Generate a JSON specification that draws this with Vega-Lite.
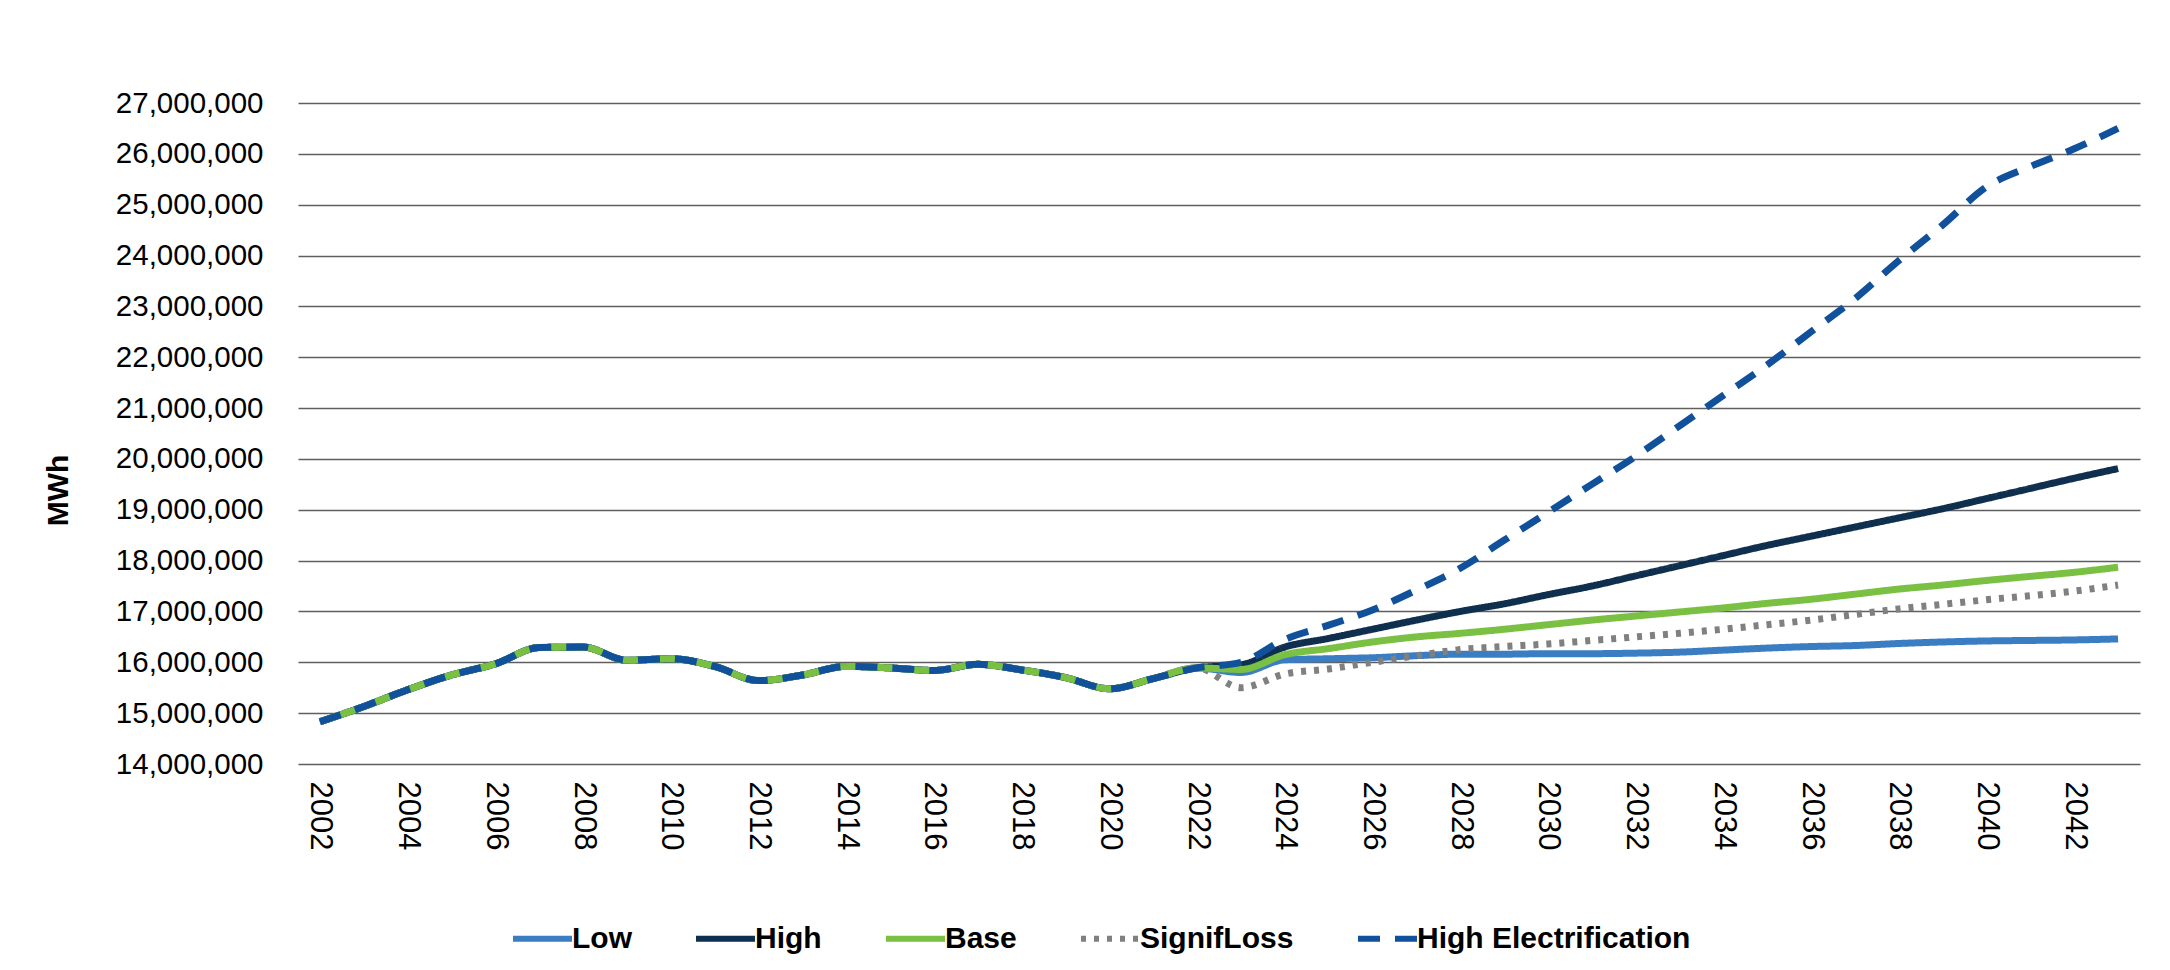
{
  "$schema": "https://vega.github.io/schema/vega-lite/v6.json",
  "width": 1842,
  "height": 661,
  "autosize": {"type": "none"},
  "padding": {"left": 298, "top": 103, "right": 30, "bottom": 206},
  "background": "#ffffff",
  "config": {
    "font": "Liberation Sans",
    "view": {"stroke": null},
    "axis": {"labelColor": "#000000", "titleColor": "#000000"}
  },
  "data": {
    "values": [
      {"year": 2002, "Low": 14830000, "High": 14830000, "SignifLoss": 14830000, "Base": 14830000, "High Electrification": 14830000},
      {"year": 2003, "Low": 15130000, "High": 15130000, "SignifLoss": 15130000, "Base": 15130000, "High Electrification": 15130000},
      {"year": 2004, "Low": 15460000, "High": 15460000, "SignifLoss": 15460000, "Base": 15460000, "High Electrification": 15460000},
      {"year": 2005, "Low": 15750000, "High": 15750000, "SignifLoss": 15750000, "Base": 15750000, "High Electrification": 15750000},
      {"year": 2006, "Low": 15970000, "High": 15970000, "SignifLoss": 15970000, "Base": 15970000, "High Electrification": 15970000},
      {"year": 2007, "Low": 16290000, "High": 16290000, "SignifLoss": 16290000, "Base": 16290000, "High Electrification": 16290000},
      {"year": 2008, "Low": 16300000, "High": 16300000, "SignifLoss": 16300000, "Base": 16300000, "High Electrification": 16300000},
      {"year": 2009, "Low": 16040000, "High": 16040000, "SignifLoss": 16040000, "Base": 16040000, "High Electrification": 16040000},
      {"year": 2010, "Low": 16070000, "High": 16070000, "SignifLoss": 16070000, "Base": 16070000, "High Electrification": 16070000},
      {"year": 2011, "Low": 15920000, "High": 15920000, "SignifLoss": 15920000, "Base": 15920000, "High Electrification": 15920000},
      {"year": 2012, "Low": 15640000, "High": 15640000, "SignifLoss": 15640000, "Base": 15640000, "High Electrification": 15640000},
      {"year": 2013, "Low": 15750000, "High": 15750000, "SignifLoss": 15750000, "Base": 15750000, "High Electrification": 15750000},
      {"year": 2014, "Low": 15920000, "High": 15920000, "SignifLoss": 15920000, "Base": 15920000, "High Electrification": 15920000},
      {"year": 2015, "Low": 15890000, "High": 15890000, "SignifLoss": 15890000, "Base": 15890000, "High Electrification": 15890000},
      {"year": 2016, "Low": 15840000, "High": 15840000, "SignifLoss": 15840000, "Base": 15840000, "High Electrification": 15840000},
      {"year": 2017, "Low": 15960000, "High": 15960000, "SignifLoss": 15960000, "Base": 15960000, "High Electrification": 15960000},
      {"year": 2018, "Low": 15850000, "High": 15850000, "SignifLoss": 15850000, "Base": 15850000, "High Electrification": 15850000},
      {"year": 2019, "Low": 15700000, "High": 15700000, "SignifLoss": 15700000, "Base": 15700000, "High Electrification": 15700000},
      {"year": 2020, "Low": 15480000, "High": 15480000, "SignifLoss": 15480000, "Base": 15480000, "High Electrification": 15480000},
      {"year": 2021, "Low": 15680000, "High": 15680000, "SignifLoss": 15680000, "Base": 15680000, "High Electrification": 15680000},
      {"year": 2022, "Low": 15890000, "High": 15890000, "SignifLoss": 15890000, "Base": 15890000, "High Electrification": 15890000},
      {"year": 2023, "Low": 15800000, "High": 15950000, "SignifLoss": 15500000, "Base": 15860000, "High Electrification": 16000000},
      {"year": 2024, "Low": 16050000, "High": 16300000, "SignifLoss": 15770000, "Base": 16150000, "High Electrification": 16450000},
      {"year": 2025, "Low": 16070000, "High": 16470000, "SignifLoss": 15870000, "Base": 16270000, "High Electrification": 16730000},
      {"year": 2026, "Low": 16090000, "High": 16650000, "SignifLoss": 16000000, "Base": 16400000, "High Electrification": 17030000},
      {"year": 2027, "Low": 16130000, "High": 16830000, "SignifLoss": 16130000, "Base": 16500000, "High Electrification": 17420000},
      {"year": 2028, "Low": 16160000, "High": 17000000, "SignifLoss": 16250000, "Base": 16570000, "High Electrification": 17850000},
      {"year": 2029, "Low": 16160000, "High": 17150000, "SignifLoss": 16310000, "Base": 16650000, "High Electrification": 18400000},
      {"year": 2030, "Low": 16170000, "High": 17330000, "SignifLoss": 16360000, "Base": 16740000, "High Electrification": 18950000},
      {"year": 2031, "Low": 16170000, "High": 17500000, "SignifLoss": 16430000, "Base": 16830000, "High Electrification": 19500000},
      {"year": 2032, "Low": 16180000, "High": 17700000, "SignifLoss": 16500000, "Base": 16910000, "High Electrification": 20050000},
      {"year": 2033, "Low": 16200000, "High": 17900000, "SignifLoss": 16570000, "Base": 16990000, "High Electrification": 20650000},
      {"year": 2034, "Low": 16240000, "High": 18100000, "SignifLoss": 16650000, "Base": 17070000, "High Electrification": 21250000},
      {"year": 2035, "Low": 16280000, "High": 18300000, "SignifLoss": 16740000, "Base": 17160000, "High Electrification": 21850000},
      {"year": 2036, "Low": 16310000, "High": 18480000, "SignifLoss": 16830000, "Base": 17240000, "High Electrification": 22500000},
      {"year": 2037, "Low": 16330000, "High": 18660000, "SignifLoss": 16940000, "Base": 17340000, "High Electrification": 23150000},
      {"year": 2038, "Low": 16370000, "High": 18840000, "SignifLoss": 17050000, "Base": 17440000, "High Electrification": 23900000},
      {"year": 2039, "Low": 16400000, "High": 19020000, "SignifLoss": 17140000, "Base": 17520000, "High Electrification": 24600000},
      {"year": 2040, "Low": 16420000, "High": 19220000, "SignifLoss": 17230000, "Base": 17610000, "High Electrification": 25350000},
      {"year": 2041, "Low": 16430000, "High": 19420000, "SignifLoss": 17310000, "Base": 17690000, "High Electrification": 25750000},
      {"year": 2042, "Low": 16440000, "High": 19620000, "SignifLoss": 17400000, "Base": 17770000, "High Electrification": 26100000},
      {"year": 2043, "Low": 16460000, "High": 19810000, "SignifLoss": 17520000, "Base": 17870000, "High Electrification": 26500000}
    ]
  },
  "transform": [
    {"fold": ["Low", "High", "SignifLoss", "Base", "High Electrification"], "as": ["series", "mwh"]}
  ],
  "mark": {"type": "line", "interpolate": "monotone", "strokeWidth": 7, "strokeCap": "butt", "strokeJoin": "round"},
  "encoding": {
    "x": {
      "field": "year",
      "type": "ordinal",
      "sort": "ascending",
      "axis": {
        "title": null,
        "values": [2002, 2004, 2006, 2008, 2010, 2012, 2014, 2016, 2018, 2020, 2022, 2024, 2026, 2028, 2030, 2032, 2034, 2036, 2038, 2040, 2042],
        "labelAngle": 90,
        "labelFontSize": 31,
        "labelPadding": 17,
        "ticks": false,
        "domain": false,
        "grid": false
      }
    },
    "y": {
      "field": "mwh",
      "type": "quantitative",
      "scale": {"domain": [14000000, 27000000], "nice": false, "zero": false},
      "axis": {
        "title": "MWh",
        "titleFontSize": 30,
        "titleFontWeight": "bold",
        "titleAngle": -90,
        "titleX": -240,
        "titleY": 387,
        "titleAlign": "center",
        "titleBaseline": "middle",
        "values": [14000000, 15000000, 16000000, 17000000, 18000000, 19000000, 20000000, 21000000, 22000000, 23000000, 24000000, 25000000, 26000000, 27000000],
        "format": ",.0f",
        "labelFontSize": 29.5,
        "labelPadding": 35,
        "labelLimit": 300,
        "ticks": false,
        "domain": false,
        "grid": true,
        "gridColor": "#5f5f5f",
        "gridWidth": 1.6
      }
    },
    "color": {
      "field": "series",
      "type": "nominal",
      "scale": {
        "domain": ["Low", "High", "Base", "SignifLoss", "High Electrification"],
        "range": ["#3A7DC2", "#0E2F4E", "#7AC143", "#808080", "#11509B"]
      },
      "legend": {
        "title": null,
        "orient": "none",
        "direction": "horizontal",
        "legendX": 212,
        "legendY": 803,
        "symbolType": "stroke",
        "symbolSize": 3481,
        "symbolStrokeWidth": 6,
        "labelFontSize": 30,
        "labelFontWeight": "bold",
        "labelColor": "#000000",
        "labelOffset": -3,
        "labelLimit": 400,
        "columnPadding": 52
      }
    },
    "strokeDash": {
      "field": "series",
      "type": "nominal",
      "scale": {
        "domain": ["Low", "High", "Base", "SignifLoss", "High Electrification"],
        "range": [[1, 0], [1, 0], [1, 0], [5, 8], [22, 15]]
      },
      "legend": null
    }
  }
}
